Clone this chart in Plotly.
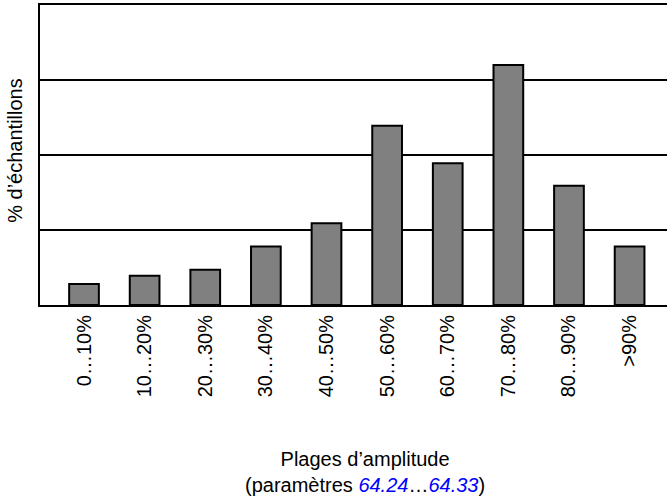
import plotly.graph_objects as go

categories = ["0…10%", "10…20%", "20…30%", "30…40%", "40…50%",
              "50…60%", "60…70%", "70…80%", "80…90%", ">90%"]
values = [0.28, 0.39, 0.47, 0.78, 1.09, 2.39, 1.89, 3.20, 1.59, 0.78]
positions = list(range(len(categories)))

FONT = "Liberation Sans, Arial, sans-serif"

fig = go.Figure(go.Bar(
    x=positions, y=values, width=0.49,
    marker=dict(color="#808080", line=dict(color="black", width=2)),
    hoverinfo="skip",
))

fig.update_layout(
    width=667, height=498,
    margin=dict(l=40, r=0, t=5, b=193),
    paper_bgcolor="white", plot_bgcolor="white",
    showlegend=False,
    font=dict(family=FONT, size=20, color="black"),
    xaxis=dict(
        range=[-0.726, 9.617], tickmode="array", tickvals=positions,
        ticktext=categories, tickangle=-90, showgrid=False,
        showline=True, linecolor="black", linewidth=2, mirror=True,
        ticks="", zeroline=False, fixedrange=True,
        tickfont=dict(family=FONT, size=20, color="black"),
    ),
    yaxis=dict(
        range=[0, 4], tickvals=[1, 2, 3], showticklabels=False,
        showgrid=True, gridcolor="black", gridwidth=2,
        showline=True, linecolor="black", linewidth=2, mirror=False,
        ticks="", zeroline=False, fixedrange=True,
    ),
    annotations=[
        dict(
            xref="paper", yref="paper", x=-0.041, y=0.515,
            xanchor="center", yanchor="middle", textangle=-90,
            showarrow=False, text="% d’échantillons",
            font=dict(family=FONT, size=20, color="black"),
        ),
        dict(
            xref="paper", yref="paper", x=0.519, y=-0.47, xanchor="center", yanchor="top",
            showarrow=False, align="center",
            text="Plages d’amplitude<br>(paramètres <i><span style='color:#0000FF'>64.24</span></i>…<i><span style='color:#0000FF'>64.33</span></i>)",
            font=dict(family=FONT, size=20, color="black"),
        ),
    ],
)

fig.write_html("out.html", config={"displayModeBar": False},
               post_script="document.body.style.margin='0';document.body.style.overflow='hidden';")
